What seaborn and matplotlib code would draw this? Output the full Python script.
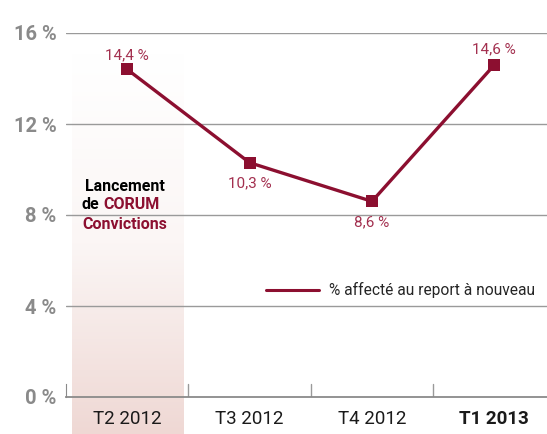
import numpy as np
import pandas as pd
import matplotlib.pyplot as plt
import seaborn as sns
from matplotlib.colors import LinearSegmentedColormap
from matplotlib.lines import Line2D

# data
quarters = ['T2 2012', 'T3 2012', 'T4 2012', 'T1 2013']
pct = [14.4, 10.3, 8.6, 14.6]
pct_labels = ['14,4 %', '10,3 %', '8,6 %', '14,6 %']
yticks = [0, 4, 8, 12, 16]

sns.set_style('white')
plt.rcParams['font.family'] = ['Roboto', 'DejaVu Sans']

red = '#8c0f30'
lab_red = '#a3304f'
grey = '#8a8a8a'

df = pd.DataFrame({'quarter': quarters, 'pct': pct, 'x': range(len(quarters))})

fig = plt.figure(figsize=(5.47, 4.34), dpi=100)
ax = fig.add_axes([66 / 547, 37 / 434, 481 / 547, 364 / 434])

# shaded band behind first quarter (gradient)
cmap = LinearSegmentedColormap.from_list('band', ['#ffffff', '#fbf6f5', '#efd8d4'])
grad = np.linspace(0, 1, 256).reshape(-1, 1)
ax.imshow(grad, extent=[-0.45, 0.46, -1.65, 15.1], aspect='auto', cmap=cmap,
          origin='upper', zorder=0, clip_on=False)

for v in yticks[1:]:
    ax.axhline(v, color='#9a9a9a', lw=1, zorder=1)

sns.lineplot(data=df, x='x', y='pct', ax=ax, color=red, lw=2.4, marker='s',
             markersize=8, markeredgewidth=0, zorder=3, legend=False)

offsets = [(0, 5), (0, -20), (0, -20), (0, 6)]
for i, (v, t) in enumerate(zip(pct, pct_labels)):
    ax.annotate(t, (i, v), xytext=offsets[i], textcoords='offset points',
                ha='center', va='bottom', color=lab_red, fontsize=11)

ax.set_xlim(-0.5, 3.43)
ax.set_ylim(0, 16)
ax.set_yticks(yticks)
ax.set_yticklabels([f'{v} %' for v in yticks], color=grey, fontsize=14.5, fontweight='bold')
ax.set_xticks(range(len(quarters)))
ax.set_xticklabels(quarters, fontsize=13.5, color='#1a1a1a')
ax.get_xticklabels()[-1].set_fontweight('bold')
ax.tick_params(axis='x', length=0, pad=9)
ax.tick_params(axis='y', length=0, pad=7)
for b in [0.5, 1.5, 2.5]:
    ax.plot([b, b], [0, 0.55], color='#9a9a9a', lw=1, zorder=1)

for s in ['top', 'right']:
    ax.spines[s].set_visible(False)
ax.spines['bottom'].set_color('#8a8a8a')
ax.spines['bottom'].set_linewidth(1.3)
ax.spines['left'].set_color('#8a8a8a')
ax.spines['left'].set_bounds(0, 0.55)
ax.set_xlabel('')
ax.set_ylabel('')

# launch annotation
ax.annotate('Lancement', (0, 9.25), xytext=(-2, 0), textcoords='offset points', ha='center',
            va='center', fontsize=11.5, fontweight='bold', color='black')
ax.annotate('de', (0, 8.45), xytext=(-20, 0), textcoords='offset points', ha='right', va='center',
            fontsize=11.5, fontweight='bold', color='black')
ax.annotate('CORUM', (0, 8.45), xytext=(-17, 0), textcoords='offset points', ha='left', va='center',
            fontsize=11.5, fontweight='bold', color=red)
ax.annotate('Convictions', (0, 7.6), xytext=(-1.5, 0), textcoords='offset points', ha='center',
            va='center', fontsize=11.5, fontweight='bold', color=red)

handle = Line2D([], [], color=red, lw=2.2)
ax.legend([handle], ['% affecté au report à nouveau'], loc='center right',
          bbox_to_anchor=(1.0, (290 - 397) / -364), frameon=False, fontsize=11.2,
          handlelength=3.4, handletextpad=0.6, borderaxespad=0.4)

fig.savefig('out.png', dpi=100)
